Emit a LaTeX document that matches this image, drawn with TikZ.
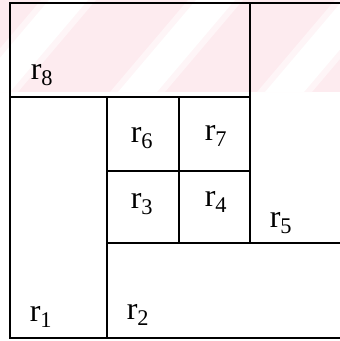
\documentclass[tikz,border=0pt]{standalone}
\usepackage{fontspec}
\setmainfont{Liberation Serif}
\definecolor{tint}{HTML}{FDEBEF}
\definecolor{tintedge}{HTML}{FEF5F7}
\newcommand{\reg}[3]{\node (#1) at (#2) {r\textsubscript{#3}}}

\begin{document}
\begin{tikzpicture}[x=1pt,y=-1pt,line width=1.3pt,
  every node/.style={font=\fontsize{32}{36}\selectfont,inner sep=0pt}]
\useasboundingbox (0,0) rectangle (340,341);
% faint striped tint over the top band
\fill[tint] (0,0) rectangle (340,92);
\begin{scope}
  \clip (0,0) rectangle (340,92);
  \foreach \a in {-32,115,262} {
    \fill[tintedge] (\a-5,92) -- (\a+50,92) -- (\a+128,0) -- (\a+73,0) -- cycle;
    \fill[white] (\a+3,92) -- (\a+42,92) -- (\a+120,0) -- (\a+81,0) -- cycle;
  }
\end{scope}
% frame
\draw (340,3) -- (10,3) -- (10,338) -- (340,338);
\draw (10,97) -- (250,97);
\draw (250,3) -- (250,243);
\draw (107,97) -- (107,338);
\draw (179,97) -- (179,243);
\draw (107,171) -- (250,171);
\draw (107,243) -- (340,243);
% labels
	\reg{r8}{42,75}{8};
	\reg{r6}{142,138}{6};
	\reg{r7}{216,136}{7};
	\reg{r3}{142,204}{3};
	\reg{r4}{216,202}{4};
	\reg{r5}{281,223}{5};
	\reg{r1}{41,317}{1};
	\reg{r2}{138,315}{2};
\end{tikzpicture}
\end{document}
